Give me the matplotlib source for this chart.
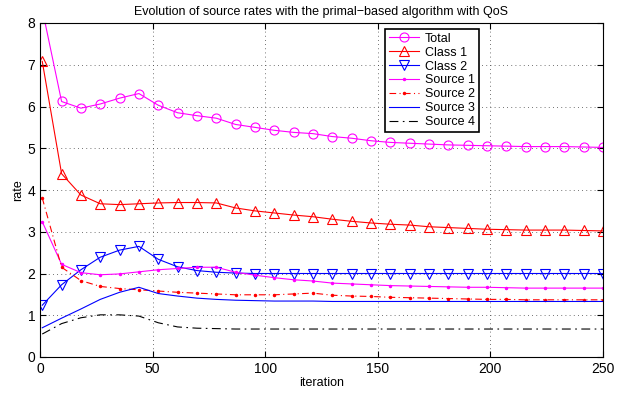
import matplotlib.pyplot as plt

plt.rcParams['font.family'] = ['Liberation Sans', 'DejaVu Sans']

# sample points (iteration numbers)
iterations = [1, 9.59, 18.17, 26.76, 35.34, 43.93, 52.52, 61.10, 69.69, 78.28,
              86.86, 95.45, 104.03, 112.62, 121.21, 129.79, 138.38, 146.97, 155.55, 164.14,
              172.72, 181.31, 189.90, 198.48, 207.07, 215.66, 224.24, 232.83, 241.41, 250]

total = [8.33, 6.12, 5.96, 6.06, 6.20, 6.31, 6.03, 5.85, 5.78, 5.72,
         5.57, 5.50, 5.43, 5.38, 5.35, 5.28, 5.24, 5.18, 5.14, 5.12,
         5.10, 5.08, 5.07, 5.06, 5.05, 5.04, 5.04, 5.04, 5.03, 5.02]
class1 = [7.08, 4.39, 3.88, 3.67, 3.65, 3.67, 3.69, 3.70, 3.70, 3.69,
          3.57, 3.50, 3.45, 3.40, 3.36, 3.30, 3.25, 3.21, 3.18, 3.16,
          3.12, 3.10, 3.08, 3.06, 3.05, 3.04, 3.04, 3.04, 3.03, 3.02]
class2 = [1.24, 1.73, 2.09, 2.39, 2.56, 2.65, 2.34, 2.16, 2.07, 2.03,
          2.01, 2.00, 2.00, 2.00, 2.00, 2.00, 2.00, 2.00, 2.00, 2.00,
          2.00, 2.00, 2.00, 2.00, 2.00, 2.00, 2.00, 2.00, 2.00, 2.00]
source1 = [3.24, 2.22, 2.02, 1.97, 1.99, 2.04, 2.09, 2.12, 2.15, 2.15,
           2.03, 1.96, 1.90, 1.85, 1.82, 1.77, 1.75, 1.73, 1.71, 1.70,
           1.69, 1.68, 1.67, 1.67, 1.66, 1.65, 1.65, 1.65, 1.65, 1.65]
source2 = [3.81, 2.15, 1.83, 1.69, 1.64, 1.61, 1.58, 1.55, 1.53, 1.51,
           1.49, 1.49, 1.49, 1.51, 1.53, 1.48, 1.46, 1.45, 1.43, 1.42,
           1.41, 1.40, 1.39, 1.38, 1.38, 1.37, 1.37, 1.37, 1.37, 1.37]
source3 = [0.70, 0.93, 1.15, 1.38, 1.55, 1.67, 1.52, 1.46, 1.41, 1.38,
           1.36, 1.35, 1.34, 1.34, 1.34, 1.33, 1.33, 1.33, 1.33, 1.33,
           1.33, 1.33, 1.33, 1.33, 1.33, 1.33, 1.33, 1.33, 1.33, 1.33]
source4 = [0.55, 0.80, 0.94, 1.01, 1.01, 0.98, 0.82, 0.72, 0.69, 0.68,
           0.67, 0.67, 0.67, 0.67, 0.67, 0.67, 0.67, 0.67, 0.67, 0.67,
           0.67, 0.67, 0.67, 0.67, 0.67, 0.67, 0.67, 0.67, 0.67, 0.67]

fig = plt.figure(figsize=(6.26, 3.94), dpi=100)
ax = fig.add_axes([40 / 626, 1 - 357 / 394, 563 / 626, 334 / 394])

lw = 0.8
ax.plot(iterations, total, '-o', color='magenta', lw=lw, ms=6.5, mfc='none', mew=0.8, label='Total')
ax.plot(iterations, class1, '-^', color='red', lw=lw, ms=6.5, mfc='none', mew=0.8, label='Class 1')
ax.plot(iterations, class2, '-v', color='blue', lw=lw, ms=6.5, mfc='none', mew=0.8, label='Class 2')
ax.plot(iterations, source1, color='magenta', lw=lw, marker='.', ms=3, linestyle='-', label='Source 1')
ax.plot(iterations, source2, color='red', lw=lw, marker='.', ms=3,
        linestyle=(0, (6, 3, 1, 3)), label='Source 2')
ax.plot(iterations, source3, '-', color='blue', lw=lw, label='Source 3')
ax.plot(iterations, source4, color='black', lw=lw, linestyle=(0, (8, 4, 1.5, 4)), label='Source 4')

ax.set_xlim(0, 250)
ax.set_ylim(0, 8)
ax.set_xticks([0, 50, 100, 150, 200, 250])
ax.set_yticks(range(0, 9))
ax.grid(True, color='#444444', linestyle=(0, (1, 4)), linewidth=0.6)
ax.tick_params(direction='in', top=True, right=True, labelsize=10, length=4)
for s in ax.spines.values():
    s.set_linewidth(0.8)

ax.set_xlabel('iteration', fontsize=9, labelpad=1)
ax.set_ylabel('rate', fontsize=9, labelpad=2)
ax.set_title('Evolution of source rates with the primal\u2212based algorithm with QoS', fontsize=9, pad=6)

leg = ax.legend(loc='upper left', bbox_to_anchor=(345 / 563, 1 - 6 / 334), fontsize=9,
                fancybox=False, framealpha=1, edgecolor='black', handlelength=2.4,
                borderpad=0.3, labelspacing=0.15, handletextpad=0.5, borderaxespad=0)
leg.get_frame().set_linewidth(1.2)

fig.savefig('out.png', dpi=100)
